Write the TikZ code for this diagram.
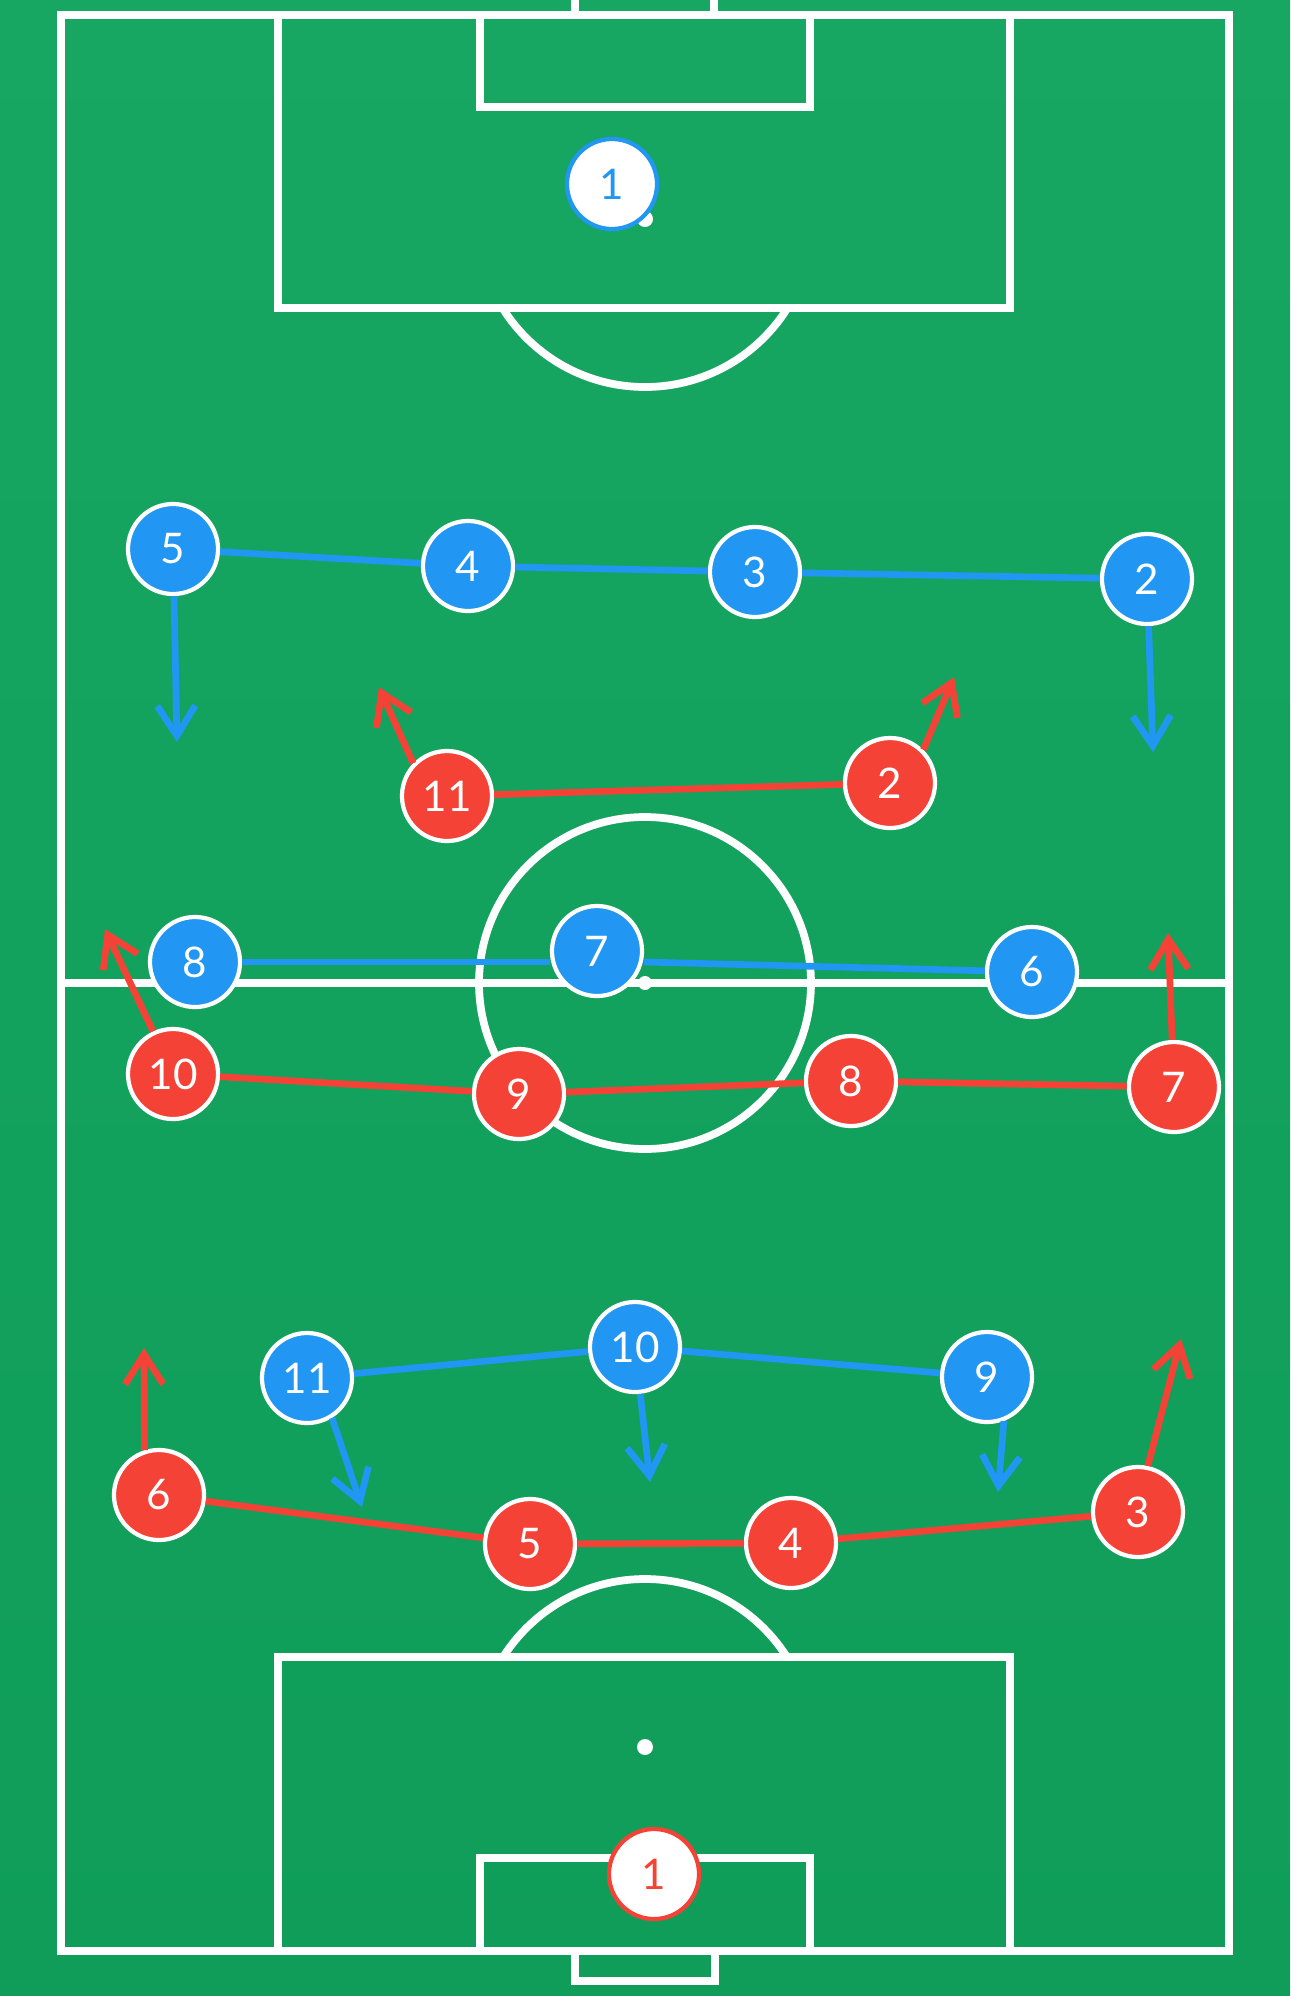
\documentclass[tikz,border=0pt]{standalone}
\usepackage{fontspec}
\setmainfont{Lato}
\usetikzlibrary{arrows.meta}
\definecolor{pitchtop}{RGB}{23,167,98}
\definecolor{pitchbot}{RGB}{15,157,89}
\definecolor{teamblue}{RGB}{33,150,243}
\definecolor{teamred}{RGB}{244,67,54}
\tikzset{
  chalk/.style={draw=white, line width=2.2pt},
  blueman/.style={circle, fill=teamblue, draw=white, line width=1.2pt, minimum size=0.9cm,
    inner sep=0pt, text=white, font=\fontsize{12}{12}\selectfont},
  redman/.style={blueman, fill=teamred},
  bluekeeper/.style={blueman, fill=white, draw=teamblue, text=teamblue},
  redkeeper/.style={blueman, fill=white, draw=teamred, text=teamred},
  blueline/.style={draw=teamblue, line width=1.9pt},
  redline/.style={draw=teamred, line width=1.9pt},
  bluerun/.style={blueline, -{Straight Barb[length=0.3cm,width=0.38cm]}},
  redrun/.style={redline, -{Straight Barb[length=0.3cm,width=0.38cm]}}
}

\begin{document}
\begin{tikzpicture}[x=0.01cm, y=-0.01cm]
			%%%%% PITCH %%%%%
			
			\shade[top color=pitchtop, bottom color=pitchbot] (0,0) rectangle (1290,1996);
			\useasboundingbox (0,0) rectangle (1290,1996);
			
			\draw[chalk] (61,15) rectangle (1229,1951);
			\draw[chalk] (61,983) -- (1229,983);
			\draw[chalk] (645,983) circle [radius=166];
			\fill[white] (645,983) circle [radius=7];
			
			\draw[chalk] (575,-20) rectangle (714,15);
			\draw[chalk] (278,15) rectangle (1010,308);
			\draw[chalk] (480,15) rectangle (810,107);
			\fill[white] (645,219) circle [radius=8];
			\begin{scope}
				\clip (0,308) rectangle (1290,600);
				\draw[chalk] (645,219) circle [radius=168];
			\end{scope}
			
			\draw[chalk] (575,1951) rectangle (715,1981);
			\draw[chalk] (278,1657) rectangle (1010,1951);
			\draw[chalk] (480,1858) rectangle (810,1951);
			\fill[white] (645,1747) circle [radius=8];
			\begin{scope}
				\clip (0,1400) rectangle (1290,1657);
				\draw[chalk] (645,1747) circle [radius=168];
			\end{scope}
			
			%%%%% BLUE %%%%%
			
			\node[bluekeeper] (b1) at (612,184) {1};
			\node[blueman] (b5) at (173,549) {5};
			\node[blueman] (b4) at (468,566) {4};
			\node[blueman] (b3) at (755,572) {3};
			\node[blueman] (b2) at (1147,579) {2};
			\node[blueman] (b8) at (195,962) {8};
			\node[blueman] (b7) at (597,951) {7};
			\node[blueman] (b6) at (1032,972) {6};
			\node[blueman] (b11) at (307,1378) {11};
			\node[blueman] (b10) at (635,1347) {10};
			\node[blueman] (b9) at (987,1377) {9};
			
			\draw[blueline] (b5) -- (b4);
			\draw[blueline] (b4) -- (b3);
			\draw[blueline] (b3) -- (b2);
			\draw[blueline] (b8) -- (b8 -| b7.west);
			\draw[blueline] (b8 -| b7.east) -- (b6);
			\draw[blueline] (b11) -- (b10);
			\draw[blueline] (b10) -- (b9);
			
			\coordinate (b5run) at (177,742);
			\coordinate (b2run) at (1153,752);
			\coordinate (b11run) at (362,1507);
			\coordinate (b10run) at (650,1482);
			\coordinate (b9run) at (998,1492);
			
			\draw[bluerun] (b5) -- (b5run);
			\draw[bluerun] (b2) -- (b2run);
			\draw[bluerun] (b11.-58) -- (b11run);
			\draw[bluerun] (b10) -- (b10run);
			\draw[bluerun] (b9.-69) -- (b9run);
			
			%%%%% RED %%%%%
			
			\node[redkeeper] (r1) at (654,1874) {1};
			\node[redman] (r11) at (447,796) {11};
			\node[redman] (r2) at (890,783) {2};
			\node[redman] (r10) at (173,1074) {10};
			\node[redman] (r9) at (519,1094) {9};
			\node[redman] (r8) at (851,1081) {8};
			\node[redman] (r7) at (1174,1087) {7};
			\node[redman] (r6) at (159,1495) {6};
			\node[redman] (r5) at (530,1544) {5};
			\node[redman] (r4) at (791,1543) {4};
			\node[redman] (r3) at (1138,1512) {3};
			
			\draw[redline] (r11) -- (r2);
			\draw[redline] (r10) -- (r9);
			\draw[redline] (r9) -- (r8);
			\draw[redline] (r8) -- (r7);
			\draw[redline] (r6) -- (r5);
			\draw[redline] (r5) -- (r4);
			\draw[redline] (r4) -- (r3);
			
			\coordinate (r11run) at (379,687);
			\coordinate (r2run) at (954,677);
			\coordinate (r10run) at (105,929);
			\coordinate (r7run) at (1168,933);
			\coordinate (r6run) at (144,1348);
			\coordinate (r3run) at (1181,1339);
			
			\draw[redrun] (r11.136) -- (r11run);
			\draw[redrun] (r2.45) -- (r2run);
			\draw[redrun] (r10) -- (r10run);
			\draw[redrun] (r7) -- (r7run);
			\draw[redrun] (r6.108) -- (r6run);
			\draw[redrun] (r3.78) -- (r3run);
			
			%%%%% END %%%%%
\end{tikzpicture}
\end{document}
